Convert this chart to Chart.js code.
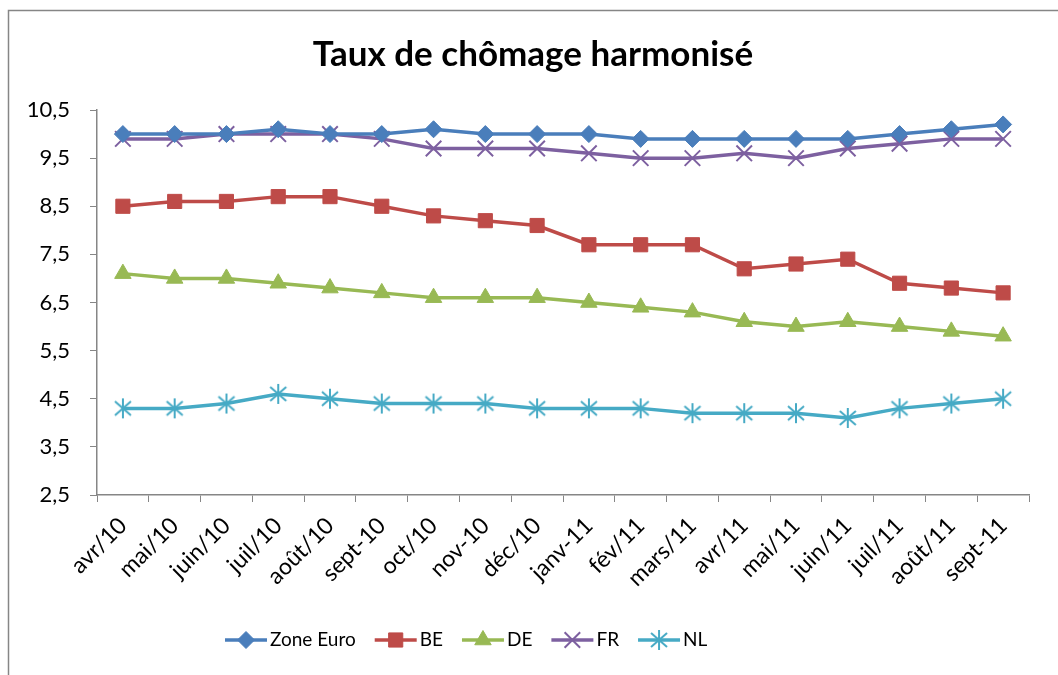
<!DOCTYPE html>
<html>
<head>
<meta charset="utf-8">
<script src="https://cdn.jsdelivr.net/npm/chart.js@4"></script>
<style>
  html, body { margin: 0; padding: 0; background: #fff; }
  #wrap { width: 1058px; height: 675px; }
</style>
</head>
<body>
<div id="wrap"><canvas id="lineChart" width="1058" height="675"></canvas></div>
<script>
let months = ['avr/10', 'mai/10', 'juin/10', 'juil/10', 'août/10', 'sept-10', 'oct/10', 'nov-10', 'déc/10',
  'janv-11', 'fév/11', 'mars/11', 'avr/11', 'mai/11', 'juin/11', 'juil/11', 'août/11', 'sept-11'];
let zoneEuro = [10.0, 10.0, 10.0, 10.1, 10.0, 10.0, 10.1, 10.0, 10.0, 10.0, 9.9, 9.9, 9.9, 9.9, 9.9, 10.0, 10.1, 10.2];
let be = [8.5, 8.6, 8.6, 8.7, 8.7, 8.5, 8.3, 8.2, 8.1, 7.7, 7.7, 7.7, 7.2, 7.3, 7.4, 6.9, 6.8, 6.7];
let de = [7.1, 7.0, 7.0, 6.9, 6.8, 6.7, 6.6, 6.6, 6.6, 6.5, 6.4, 6.3, 6.1, 6.0, 6.1, 6.0, 5.9, 5.8];
let fr = [9.9, 9.9, 10.0, 10.0, 10.0, 9.9, 9.7, 9.7, 9.7, 9.6, 9.5, 9.5, 9.6, 9.5, 9.7, 9.8, 9.9, 9.9];
let nl = [4.3, 4.3, 4.4, 4.6, 4.5, 4.4, 4.4, 4.4, 4.3, 4.3, 4.3, 4.2, 4.2, 4.2, 4.1, 4.3, 4.4, 4.5];
let yTicks = [2.5, 3.5, 4.5, 5.5, 6.5, 7.5, 8.5, 9.5, 10.5];
let titre = 'Taux de chômage harmonisé';

const FONT = 'Lato, "Open Sans", sans-serif';
const AXIS = '#868686';

// étoile façon Excel : trait vertical + croix
function starMarker(color) {
  const c = document.createElement('canvas');
  c.width = 22; c.height = 22;
  const g = c.getContext('2d');
  g.strokeStyle = color;
  g.lineWidth = 2;
  g.beginPath();
  g.moveTo(11, 1); g.lineTo(11, 21);
  g.moveTo(3, 4); g.lineTo(19, 18);
  g.moveTo(19, 4); g.lineTo(3, 18);
  g.stroke();
  return c;
}

function serie(label, data, color, style, radius, bw) {
  return {
    label: label,
    data: data,
    borderColor: color,
    backgroundColor: color,
    borderWidth: 3.5,
    tension: 0,
    pointStyle: style,
    pointRadius: radius,
    pointHoverRadius: radius,
    pointBorderWidth: bw,
    pointBorderColor: color,
    pointBackgroundColor: color
  };
}

// bordure, titre et légende façon Excel (ligne + marqueur)
const excelDeco = {
  id: 'excelDeco',
  beforeDraw(chart) {
    const ctx = chart.ctx;
    ctx.save();
    ctx.fillStyle = '#fff';
    ctx.fillRect(0, 0, chart.width, chart.height);
    ctx.strokeStyle = AXIS;
    ctx.lineWidth = 1.5;
    ctx.strokeRect(8.5, 10.5, chart.width + 20, chart.height + 20);
    ctx.restore();
  },
  afterDraw(chart) {
    const ctx = chart.ctx;
    ctx.save();
    // titre
    ctx.font = 'bold 35px ' + FONT;
    ctx.textAlign = 'center';
    ctx.textBaseline = 'middle';
    ctx.fillStyle = '#000';
    ctx.fillText(titre, 533, 55);

    // légende
    ctx.textAlign = 'left';
    ctx.font = '19px ' + FONT;
    let x = 225;
    const y = 640;
    chart.data.datasets.forEach(ds => {
      ctx.strokeStyle = ds.borderColor;
      ctx.lineWidth = 3.5;
      ctx.beginPath();
      ctx.moveTo(x, y);
      ctx.lineTo(x + 42, y);
      ctx.stroke();
      ctx.fillStyle = ds.pointBackgroundColor;
      ctx.strokeStyle = ds.pointBorderColor;
      ctx.lineWidth = ds.pointBorderWidth;
      Chart.helpers.drawPoint(ctx, {pointStyle: ds.pointStyle, radius: ds.pointRadius, borderWidth: ds.pointBorderWidth}, x + 21, y);
      ctx.fillStyle = '#000';
      ctx.fillText(ds.label, x + 45, y);
      x += 45 + ctx.measureText(ds.label).width + 19;
    });
    ctx.restore();
  }
};

var ctx = document.getElementById('lineChart').getContext('2d');
var lineChart = new Chart(ctx, {
  type: 'line',
  data: {
    labels: months,
    datasets: [
      serie('Zone Euro', zoneEuro, '#4A7EBB', 'rectRot', 8.5, 1),
      serie('BE', be, '#BE4B48', 'rect', 10, 1),
      serie('DE', de, '#98B954', 'triangle', 9.5, 1),
      serie('FR', fr, '#7D60A0', 'crossRot', 11, 2),
      serie('NL', nl, '#46AAC5', starMarker('#46AAC5'), 10, 2)
    ]
  },
  options: {
    responsive: false,
    animation: false,
    layout: { padding: { left: 0, right: 29, top: 110, bottom: 60 } },
    plugins: {
      legend: { display: false },
      tooltip: { enabled: false },
      title: { display: false }
    },
    scales: {
      x: {
        offset: true,
        grid: { display: true, drawOnChartArea: false, offset: true, tickLength: 7, color: AXIS, tickColor: AXIS },
        border: { display: true, color: AXIS, width: 1.5 },
        ticks: {
          color: '#000',
          font: { family: FONT, size: 23 },
          minRotation: 45,
          maxRotation: 45,
          autoSkip: false,
          padding: 10
        },
        afterFit(scale) { scale.height = 120; }
      },
      y: {
        min: 2.5,
        max: 10.5,
        grid: { display: true, drawOnChartArea: false, tickLength: 7, color: AXIS, tickColor: AXIS },
        border: { display: true, color: AXIS, width: 1.5 },
        afterBuildTicks(scale) { scale.ticks = yTicks.map(v => ({ value: v })); },
        ticks: {
          color: '#000',
          font: { family: FONT, size: 22 },
          padding: 20,
          callback: v => v.toFixed(1).replace('.', ',')
        },
        afterFit(scale) { scale.width = 97; }
      }
    }
  },
  plugins: [excelDeco]
});
</script>
</body>
</html>
